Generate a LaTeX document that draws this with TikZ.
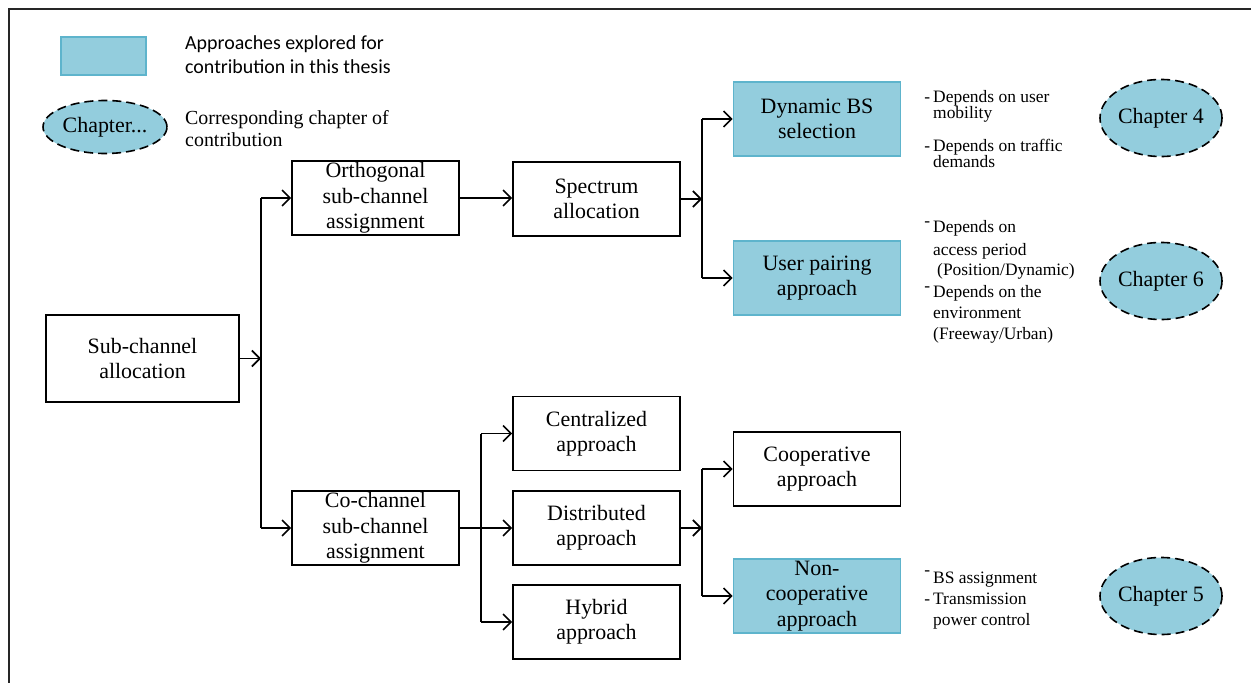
\documentclass[tikz,border=0pt]{standalone}
\usepackage{fontspec}
\setmainfont{Liberation Serif}
\newfontfamily\legendfont{Carlito}
\usetikzlibrary{arrows.meta,shapes.geometric}
\definecolor{aqua}{HTML}{93CDDD}
\definecolor{aquaedge}{HTML}{5EB4CC}

\begin{document}
\begin{tikzpicture}[x=1bp,y=-1bp,
  box/.style={draw=black, line width=1.6bp, minimum width=167bp, minimum height=74bp,
    align=center, inner sep=0pt, font=\fontsize{22}{25.5}\selectfont},
  hibox/.style={box, fill=aqua, draw=aquaedge},
  chap/.style={ellipse, draw=black, fill=aqua, dash pattern=on 9bp off 5bp,
    line width=1.6bp, minimum width=122bp, minimum height=77bp, inner sep=0pt,
    font=\fontsize{22}{26}\selectfont},
  link/.style={line width=1.6bp, -{Straight Barb[length=8bp,width=16bp,line width=1.6bp]}},
  bus/.style={line width=1.6bp},
  note/.style={anchor=base west, inner sep=0pt, font=\fontsize{17.5}{18}\selectfont},
  legtext/.style={anchor=base west, inner sep=0pt},
]
\useasboundingbox (0,0) rectangle (1251,683);

% outer frame
\draw[line width=2.5bp, black!85] (9,683) -- (9,9) -- (1251,9);

% legend
\node[draw=aquaedge, fill=aqua, line width=1.4bp, minimum width=85bp, minimum height=38bp, inner sep=0pt] (legbox) at (103.5,56) {};
\node[chap, minimum width=124bp, minimum height=53bp] (legchap) at (105,127) {Chapter...};
\node[legtext, font=\legendfont\fontsize{20}{24}\selectfont] (legA) at (185,50) {Approaches explored for};
\node[legtext, font=\legendfont\fontsize{20}{24}\selectfont] (legB) at (185,74) {contribution in this thesis};
\node[legtext, font=\fontsize{20}{22}\selectfont] (legC) at (185,125) {Corresponding chapter of};
\node[legtext, font=\fontsize{20}{22}\selectfont] (legD) at (185,147) {contribution};

% boxes
\node[box, minimum width=193bp, minimum height=87bp] (sub) at (142.5,358.5) {Sub-channel\\allocation};
\node[box] (orth) at (375.5,198) {Orthogonal\\sub-channel\\assignment};
\node[box] (spec) at (596.5,199) {Spectrum\\allocation};
\node[hibox] (dbs) at (817,119) {Dynamic BS\\selection};
\node[hibox] (upa) at (817,278) {User pairing\\approach};
\node[box] (cochan) at (375.5,528) {Co-channel\\sub-channel\\assignment};
\node[box] (cen) at (596.5,433.5) {Centralized\\approach};
\node[box] (dis) at (596.5,528) {Distributed\\approach};
\node[box] (hyb) at (596.5,622) {Hybrid\\approach};
\node[box] (coop) at (817,469) {Cooperative\\approach};
\node[hibox] (ncoop) at (817,596) {Non-\\cooperative\\approach};

% chapter ellipses
\node[chap] (ch4) at (1161,118) {Chapter 4};
\node[chap] (ch6) at (1161,281) {Chapter 6};
\node[chap] (ch5) at (1161,596) {Chapter 5};

% bus lines
\coordinate (xa) at (261,0);
\coordinate (xb) at (702,0);
\coordinate (xc) at (481,0);

\draw[bus] (orth.west -| xa) -- (cochan.west -| xa);
\draw[link] (sub.east) -- (sub.east -| xa);
\draw[link] (orth.west -| xa) -- (orth.west);
\draw[link] (cochan.west -| xa) -- (cochan.west);

\draw[link] (orth.east) -- (spec.west |- orth.east);
\draw[bus] (dbs.west -| xb) -- (upa.west -| xb);
\draw[link] (spec.east) -- (spec.east -| xb);
\draw[link] (dbs.west -| xb) -- (dbs.west);
\draw[link] (upa.west -| xb) -- (upa.west);

\draw[bus] (cen.west -| xc) -- (hyb.west -| xc);
\draw[link] (cochan.east) -- (dis.west);
\draw[link] (cen.west -| xc) -- (cen.west);
\draw[link] (hyb.west -| xc) -- (hyb.west);

\draw[bus] (coop.west -| xb) -- (ncoop.west -| xb);
\draw[link] (dis.east) -- (dis.east -| xb);
\draw[link] (coop.west -| xb) -- (coop.west);
\draw[link] (ncoop.west -| xb) -- (ncoop.west);

% side notes
\node[note] (na1) at (933,103) {\llap{-\hspace{3bp}}Depends on user};
\node[note] (na2) at (933,119) {mobility};
\node[note] (na3) at (933,152) {\llap{-\hspace{3bp}}Depends on traffic};
\node[note] (na4) at (933,168) {demands};

\node[note] (nb1) at (933,233) {\llap{\raisebox{6bp}{-}\hspace{3bp}}Depends on};
\node[note] (nb2) at (933,255) {access period};
\node[note] (nb3) at (933,275) {\hspace{4bp}(Position/Dynamic)};
\node[note] (nb4) at (933,297) {\llap{\raisebox{6bp}{-}\hspace{3bp}}Depends on the};
\node[note] (nb5) at (933,318) {environment};
\node[note] (nb6) at (933,339) {(Freeway/Urban)};

\node[note] (nc1) at (933,583) {\llap{\raisebox{8bp}{-}\hspace{3bp}}BS assignment};
\node[note] (nc2) at (933,604) {\llap{-\hspace{3bp}}Transmission};
\node[note] (nc3) at (933,625) {power control};
\end{tikzpicture}
\end{document}
